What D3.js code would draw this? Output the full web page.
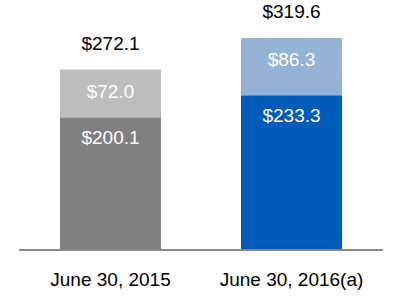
<!doctype html>
<html lang="en">
<head>
<meta charset="utf-8">
<title>Stacked bars</title>
<script src="https://d3js.org/d3.v7.min.js"></script>
<style>
  html, body { margin: 0; padding: 0; background: #fff; }
  text { font-family: "Liberation Sans", Arial, sans-serif; }
</style>
</head>
<body>
<div id="container"></div>
<script>
  // data
  const categories = ['June 30, 2015', 'June 30, 2016(a)'];
  const baseValues = [200.1, 233.3];
  const topValues = [72.0, 86.3];
  const totals = [272.1, 319.6];

  const baseColors = ['#808080', '#005cb9'];
  const topColors = ['#bdbdbd', '#95b3d7'];

  const width = 400, height = 300;
  const baseY = 250;

  const svg = d3.select('#container').append('svg')
    .attr('width', width)
    .attr('height', height);

  const x = d3.scaleBand()
    .domain(categories)
    .range([20, 382])
    .paddingInner(0.442)
    .paddingOuter(0.221);

  const y = d3.scaleLinear()
    .domain([0, d3.max(totals)])
    .range([baseY, 38]);

  const rows = categories.map((c, i) => ({ cat: c, base: baseValues[i], top: topValues[i], total: totals[i], i: i }));

  const fmt = v => '$' + v.toFixed(1);

  const g = svg.append('g').selectAll('g')
    .data(rows)
    .enter()
    .append('g');

  // bottom segment
  g.append('rect')
    .attr('x', d => x(d.cat))
    .attr('width', x.bandwidth())
    .attr('y', d => y(d.base))
    .attr('height', d => y(0) - y(d.base))
    .attr('fill', d => baseColors[d.i]);

  // top segment
  g.append('rect')
    .attr('x', d => x(d.cat))
    .attr('width', x.bandwidth())
    .attr('y', d => y(d.base + d.top))
    .attr('height', d => y(d.base) - y(d.base + d.top))
    .attr('fill', d => topColors[d.i]);

  // labels inside segments
  g.append('text')
    .attr('x', d => x(d.cat) + x.bandwidth() / 2)
    .attr('y', d => y(d.base) + 27)
    .attr('text-anchor', 'middle')
    .attr('fill', '#fff')
    .style('font-size', '19px')
    .text(d => fmt(d.base));

  g.append('text')
    .attr('x', d => x(d.cat) + x.bandwidth() / 2)
    .attr('y', d => y(d.base + d.top) + 28)
    .attr('text-anchor', 'middle')
    .attr('fill', '#fff')
    .style('font-size', '19px')
    .text(d => fmt(d.top));

  // totals above
  g.append('text')
    .attr('x', d => x(d.cat) + x.bandwidth() / 2)
    .attr('y', d => y(d.total) - 20)
    .attr('text-anchor', 'middle')
    .attr('fill', '#000')
    .style('font-size', '19px')
    .text(d => fmt(d.total));

  // baseline
  svg.append('line')
    .attr('x1', 19).attr('x2', 383)
    .attr('y1', baseY).attr('y2', baseY)
    .attr('stroke', '#888')
    .attr('stroke-width', 2);

  // category labels
  svg.append('g').selectAll('text')
    .data(categories)
    .enter()
    .append('text')
    .attr('x', d => x(d) + x.bandwidth() / 2)
    .attr('y', 286)
    .attr('text-anchor', 'middle')
    .attr('fill', '#000')
    .style('font-size', '19px')
    .text(d => d);
</script>
</body>
</html>
